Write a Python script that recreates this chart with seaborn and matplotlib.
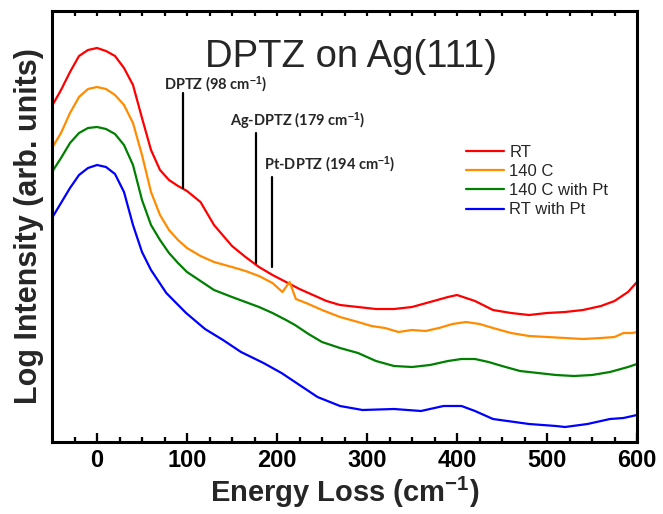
import numpy as np
import pandas as pd
import matplotlib
matplotlib.use('Agg')
import matplotlib.pyplot as plt
import seaborn as sns

# Spectra (energy loss in cm-1, log intensity in arb. units)
rt_x = [-50, -40, -30, -20, -10, 0, 10, 20, 30, 40, 50, 60, 70, 80, 90, 100, 115, 130, 150, 165,
        180, 195, 210, 225, 240, 255, 270, 290, 310, 330, 350, 370, 390, 400, 420, 440, 460, 480,
        500, 520, 540, 560, 575, 590, 600]
rt_y = [336, 352, 370, 386, 392, 394, 391, 386, 374, 357, 324, 292, 272, 262, 256, 251, 240, 217, 196, 185,
        175, 167, 160, 153, 147, 141, 137, 135, 133, 133, 135, 140, 145, 147, 141, 132, 129, 127,
        129, 130, 132, 136, 141, 150, 160]

c140_x = [-50, -40, -30, -20, -10, 0, 10, 20, 30, 40, 50, 60, 70, 80, 90, 100, 115, 130, 150, 165,
          180, 195, 206, 214, 221, 235, 250, 270, 290, 305, 320, 335, 350, 365, 380, 395, 410, 425,
          440, 460, 480, 500, 520, 540, 560, 575, 585, 595, 600]
c140_y = [294, 309, 329, 345, 353, 355, 353, 347, 337, 319, 287, 250, 227, 212, 202, 194, 186, 180, 175, 171,
          166, 159, 150, 160, 143, 138, 132, 125, 120, 116, 114, 110, 112, 111, 114, 118, 120, 118,
          114, 109, 106, 105, 104, 103, 104, 105, 109, 109, 110]

c140pt_x = [-50, -40, -30, -20, -10, 0, 10, 20, 30, 40, 50, 60, 70, 80, 90, 100, 115, 130, 150, 165,
            180, 195, 210, 220, 235, 250, 270, 290, 310, 330, 350, 370, 390, 405, 420, 435, 450, 470,
            490, 510, 530, 550, 570, 590, 600]
c140pt_y = [270, 284, 299, 309, 314, 315, 313, 308, 297, 277, 242, 217, 202, 189, 179, 170, 161, 152, 145, 140,
            135, 129, 122, 117, 108, 100, 94, 89, 81, 76, 75, 77, 81, 83, 83, 80, 76, 71,
            69, 67, 66, 67, 70, 75, 78]

rtpt_x = [-50, -40, -30, -20, -10, 0, 10, 20, 30, 40, 50, 60, 77, 99, 120, 140, 160, 185, 205, 225,
          245, 270, 295, 330, 360, 385, 405, 420, 440, 480, 510, 520, 545, 570, 585, 600]
rtpt_y = [224, 239, 254, 267, 274, 277, 275, 268, 250, 217, 190, 172, 149, 129, 113, 102, 90, 79, 69, 57,
          45, 36, 32, 33, 31, 36, 36, 31, 23, 18, 16, 15, 18, 23, 24, 27]

series_names = ['RT', '140 C', '140 C with Pt', 'RT with Pt']
series_colors = ['#ff0000', '#ff8c00', '#008000', '#0000ff']

# Peak markers: position, line top, line bottom, label
peak_x = [96, 177, 194]
peak_top = [349, 309, 265]
peak_bottom = [254, 179, 175]
peak_labels = ['DPTZ (98 cm$^{-1}$)', 'Ag-DPTZ (179 cm$^{-1}$)', 'Pt-DPTZ (194 cm$^{-1}$)']
peak_label_x = [75, 148, 185]
peak_label_y = [357, 321, 277]

major_ticks = [0, 100, 200, 300, 400, 500, 600]
minor_ticks = [t for t in range(-25, 600, 25) if t % 100 != 0]

frames = []
for name, xs, ys in zip(series_names, [rt_x, c140_x, c140pt_x, rtpt_x], [rt_y, c140_y, c140pt_y, rtpt_y]):
    frames.append(pd.DataFrame({'energy': xs, 'intensity': ys, 'sample': name}))
df = pd.concat(frames, ignore_index=True)

sns.set_theme(style='ticks')
plt.rcParams['font.family'] = ['Liberation Sans', 'DejaVu Sans']
plt.rcParams['mathtext.fontset'] = 'custom'
plt.rcParams['mathtext.rm'] = 'Liberation Sans'
plt.rcParams['mathtext.bf'] = 'Liberation Sans:bold'
plt.rcParams['mathtext.default'] = 'bf'
plt.rcParams['axes.edgecolor'] = 'black'
plt.rcParams['axes.linewidth'] = 2.2
plt.rcParams['xtick.color'] = 'black'
plt.rcParams['xtick.direction'] = 'in'
plt.rcParams['xtick.labelsize'] = 17
plt.rcParams['xtick.major.pad'] = 5

fig = plt.figure(figsize=(6.63, 5.14), dpi=100)
ax = fig.add_axes([52 / 663, 72 / 514, 585 / 663, 431 / 514])

sns.lineplot(data=df, x='energy', y='intensity', hue='sample', hue_order=series_names,
             palette=dict(zip(series_names, series_colors)), estimator=None, sort=False,
             linewidth=1.6, ax=ax)

for px, y_top, y_bot in zip(peak_x, peak_top, peak_bottom):
    ax.plot([px, px], [y_bot, y_top], color='black', linewidth=1.6)
for lx, ly, txt in zip(peak_label_x, peak_label_y, peak_labels):
    ax.text(lx, ly, txt, fontsize=10.5, fontweight='bold', ha='left', va='center',
            family=['Lato', 'DejaVu Sans'])

# inward tick marks along bottom (long major, short minor) and top (all short)
for t in major_ticks:
    ax.plot([t, t], [0, 9], color='black', linewidth=1.6, solid_capstyle='butt')
for t in minor_ticks:
    ax.plot([t, t], [0, 5], color='black', linewidth=1.6, solid_capstyle='butt')
for t in major_ticks[:-1] + minor_ticks:
    ax.plot([t, t], [426, 431], color='black', linewidth=1.6, solid_capstyle='butt')

ax.text(282, 385, 'DPTZ on Ag(111)', fontsize=27.5, ha='center', va='center')

ax.set_xlabel('Energy Loss (cm$^{-1}$)', fontsize=21, fontweight='bold', labelpad=2)
ax.set_ylabel('Log Intensity (arb. units)', fontsize=22, fontweight='bold', labelpad=6)

ax.legend(handles=ax.get_lines()[:4], labels=series_names, title=None, frameon=False, fontsize=12,
          handlelength=2.3, handletextpad=0.3, labelspacing=0.25, borderpad=0, borderaxespad=0,
          loc='upper left', bbox_to_anchor=(466 / 663, 1 - 145 / 514), bbox_transform=fig.transFigure)

ax.set_xlim(-50, 600)
ax.set_ylim(0, 431)
ax.set_xticks(major_ticks)
ax.set_xticks(minor_ticks, minor=True)
ax.set_yticks([])
ax.tick_params(axis='x', which='both', bottom=True, top=False, direction='in', color='black')
ax.tick_params(axis='x', which='major', length=6.5, width=1.5)
ax.tick_params(axis='x', which='minor', length=3.5, width=1.5)
plt.setp(ax.get_xticklabels(), fontweight='bold')

fig.savefig('out.png', dpi=100)
